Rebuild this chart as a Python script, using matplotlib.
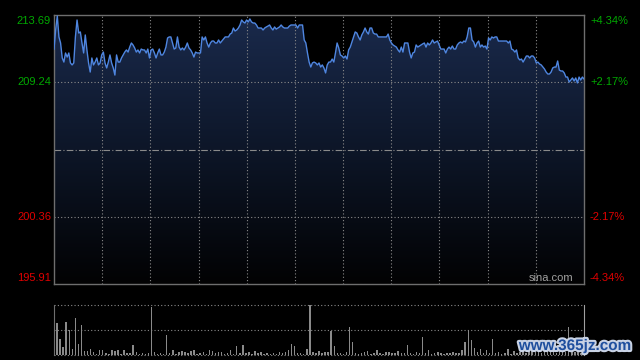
import numpy as np
import matplotlib
matplotlib.use('Agg')
import matplotlib.pyplot as plt
from matplotlib.colors import LinearSegmentedColormap
from matplotlib.patches import Polygon
import matplotlib.patheffects as pe

plt.rcParams['font.family'] = ['Liberation Sans', 'DejaVu Sans']

# 分时价格（港股 09:30-12:00, 13:00-16:00，共 330 分钟）
price = [
    211.44, 212.70, 213.62, 212.24, 211.84, 210.85, 210.58, 211.18, 210.91, 211.18,
    210.52, 210.39, 210.52, 212.24, 213.36, 212.50, 212.57, 211.84, 211.18, 212.37,
    211.38, 210.52, 209.92, 210.85, 210.39, 210.58, 210.85, 210.39, 210.52, 211.05,
    211.24, 210.52, 210.19, 210.58, 211.05, 210.52, 210.19, 209.72, 211.05, 210.58,
    210.58, 210.85, 211.05, 211.24, 211.38, 211.24, 211.57, 211.84, 211.71, 211.51,
    211.24, 211.38, 211.18, 211.44, 211.38,
    211.38, 211.18, 211.44, 210.85, 211.38, 211.44, 211.18, 210.85, 211.18, 211.44,
    211.05, 211.05, 211.24, 211.57, 212.17, 212.24, 212.24, 211.84, 211.44, 211.51,
    212.24, 211.57, 211.38, 211.51, 211.38, 211.57, 211.84, 211.51, 211.38, 211.18,
    210.91, 211.24, 211.18, 211.18, 211.18, 212.24, 212.04, 212.24, 211.84, 211.57,
    211.84, 211.97, 211.97, 211.84, 211.84, 212.04, 211.84, 211.97, 212.10, 212.24,
    212.24, 212.24, 212.43, 212.50, 212.83, 212.63,
    212.70, 212.83, 213.03, 213.36, 213.23, 213.16, 213.36, 213.23, 213.43, 213.23,
    213.16, 213.16, 213.03, 212.83, 212.83, 212.83, 212.70, 212.83, 212.90, 212.96,
    213.03, 212.83, 212.70, 212.90, 212.76, 212.83, 212.90, 213.03, 212.90, 212.83,
    212.83, 212.83, 212.96, 213.03, 213.03, 213.03, 213.03, 212.83, 213.03, 213.03,
    213.03, 212.04, 211.84, 211.18, 210.58, 210.25, 210.52, 210.58, 210.52, 210.39,
    210.52, 210.25, 210.39,
    210.19, 209.86, 210.39, 210.58, 210.58, 210.78, 210.58, 211.18, 211.84, 211.51,
    211.05, 210.98, 210.85, 210.98, 210.78, 211.38, 211.57, 211.91, 212.24, 212.57,
    212.50, 212.24, 212.04, 212.37, 212.57, 212.83, 212.57, 212.43, 212.83, 212.83,
    212.50, 212.43, 212.43, 212.24, 212.24, 212.24, 212.24, 212.24, 212.24, 212.43,
    212.04, 211.84, 211.71, 211.64, 211.57, 211.38, 211.24, 211.57, 211.24, 211.84,
    211.84, 211.84, 211.24, 210.85, 211.18, 211.24,
    211.71, 211.57, 211.64, 211.71, 211.78, 211.84, 211.57, 211.84, 211.71, 211.84,
    212.04, 211.84, 211.91, 211.97, 211.71, 211.44, 211.44, 211.44, 211.18, 211.44,
    211.57, 211.44, 211.64, 211.44, 211.44, 211.71, 211.84, 211.91, 211.84, 211.97,
    211.91, 212.24, 212.83, 212.83, 212.04, 211.91, 211.57, 211.84, 211.97, 211.57,
    211.71, 211.57, 211.64, 211.44, 212.17, 212.04, 212.24, 212.17, 212.24, 212.24,
    211.97, 211.97, 211.97, 211.97, 211.97, 211.97, 211.84, 211.97, 211.44, 211.38,
    211.24, 211.38, 210.85, 210.72, 210.78, 210.58, 210.78, 210.98, 210.98, 210.85,
    210.98, 210.98, 210.85, 210.52, 210.58, 210.45, 210.39, 210.25, 210.12, 209.92,
    209.79, 209.79, 209.92, 210.19, 210.25, 210.25, 210.65, 210.05, 209.99, 209.99,
    209.86, 209.59, 209.59, 209.26, 209.39, 209.53, 209.33, 209.53, 209.20, 209.59,
    209.39, 209.59, 209.46,
]

# 成交量（相对值）
volume = [
    68, 64, 33, 17, 66, 50, 13, 75, 22, 60, 8, 8, 13,
    6, 3, 10, 11, 4, 2, 11, 8, 11, 3, 11, 5, 4, 20, 6, 3, 4, 3, 5,
    97,
    6, 3, 4, 2,
    40,
    5, 10, 3, 6, 8, 6, 4, 8, 10, 3, 4, 6, 2, 11, 8, 4, 6, 7, 3, 5, 11, 3, 18,
    5, 20, 4, 6, 3, 8, 5,
    6, 3, 4, 2, 5, 3, 6, 4, 7, 11, 23, 18, 4, 5, 3, 12,
    100,
    6, 5, 8, 4, 6, 7,
    49,
    18, 5, 4, 3, 6,
    56, 27,
    4, 3, 5, 6, 8, 3, 5, 10, 4, 3, 6, 7, 5, 4, 8, 5, 4, 20, 4, 3, 6, 5,
    37,
    4, 10, 3, 5, 6, 4, 3, 5, 4, 6, 4, 5, 10,
    27, 51, 31,
    15, 6, 12, 4, 10, 5,
    33,
    4, 6, 3, 4, 12, 3, 8, 4, 6, 10, 5, 8, 12, 6, 9, 4, 8, 15, 6, 10, 5, 8, 14, 6,
    56,
    8, 6, 10, 5, 7,
]

prev_close = 204.80
y_min, y_max = 195.91, 213.69
left_ticks = [213.69, 209.24, 200.36, 195.91]
left_labels = ['213.69', '209.24', '200.36', '195.91']
right_labels = ['+4.34%', '+2.17%', '-2.17%', '-4.34%']
tick_colors = ['#00a800', '#00a800', '#e00000', '#e00000']
total_min = 330

t = np.linspace(0, total_min, len(price))
tv = np.linspace(0, total_min, len(volume))

fig = plt.figure(figsize=(6.4, 3.6), dpi=100, facecolor='black')
ax = fig.add_axes([54/640, 1-284/360, 530/640, 269/360])
axv = fig.add_axes([54/640, 1-355/360, 530/640, 50/360])

grid_c = '#8a8a8a'
spine_c = '#6e6e6e'

# 主图
ax.set_facecolor('black')
ax.set_xlim(0, total_min)
ax.set_ylim(y_min, y_max)
for s in ax.spines.values():
    s.set_color(spine_c)
    s.set_linewidth(1)
ax.set_xticks(np.arange(30, total_min, 30))
ax.set_yticks([])
ax.tick_params(length=0, labelbottom=False, labelleft=False)
ax.grid(axis='x', color=grid_c, linestyle=(0, (1, 2)), linewidth=0.8)
for yv in [209.24, 200.36]:
    ax.axhline(yv, color=grid_c, linestyle=(0, (1, 2)), linewidth=0.8)
ax.axhline(prev_close, color=grid_c, linestyle=(0, (6, 2, 1, 2)), linewidth=0.8)

# 渐变填充
verts = np.column_stack([np.r_[t, t[-1], t[0]], np.r_[price, y_min, y_min]])
patch = Polygon(verts, closed=True, facecolor='none', edgecolor='none')
ax.add_patch(patch)
cmap = LinearSegmentedColormap.from_list('fill', ['#020203', '#0d1628', '#1a2a4c'])
grad = np.linspace(1, 0, 256).reshape(-1, 1)
im = ax.imshow(grad, extent=[0, total_min, y_min, y_max], aspect='auto',
               cmap=cmap, origin='upper', zorder=0.5)
im.set_clip_path(patch)
ax.plot(t, price, color='#4f86e0', linewidth=1.0, zorder=3)

trans_l = ax.get_yaxis_transform()
for i, (v, lab, c) in enumerate(zip(left_ticks, left_labels, tick_colors)):
    va = 'center'
    off = 0
    if i == 0:
        off = -6
    elif i == len(left_ticks) - 1:
        off = 6
    ax.annotate(lab, xy=(0, v), xycoords=trans_l, xytext=(-3, off),
                textcoords='offset pixels', ha='right', va=va, color=c, fontsize=8)
    ax.annotate(right_labels[i], xy=(1, v), xycoords=trans_l, xytext=(6, off),
                textcoords='offset pixels', ha='left', va=va, color=c, fontsize=8)

ax.text(0.979, 0.005, 'sina.com', transform=ax.transAxes, ha='right', va='bottom',
        color='#a0a0a0', fontsize=8, zorder=4)

# 成交量
axv.set_facecolor('black')
axv.set_xlim(0, total_min)
axv.set_ylim(0, 100)
axv.bar(tv, volume, width=0.9, color='#8a8a8a', zorder=2)
axv.set_xticks([])
axv.set_yticks([])
axv.spines['top'].set_visible(False)
axv.spines['bottom'].set_visible(False)
axv.spines['left'].set_color(spine_c)
axv.spines['right'].set_color('#a0a0a0')
for yv in [0, 50, 100]:
    axv.axhline(yv, color=grid_c, linestyle=(0, (1, 2)), linewidth=0.8, clip_on=False)

fig.text(575/640, 1-346/360, 'www.365jz.com', ha='center', va='center',
         color='#1f4f9e', fontsize=11, fontweight='bold',
         path_effects=[pe.withStroke(linewidth=3, foreground='#c8d2e4')])

fig.savefig('out.png', dpi=100, facecolor='black')
